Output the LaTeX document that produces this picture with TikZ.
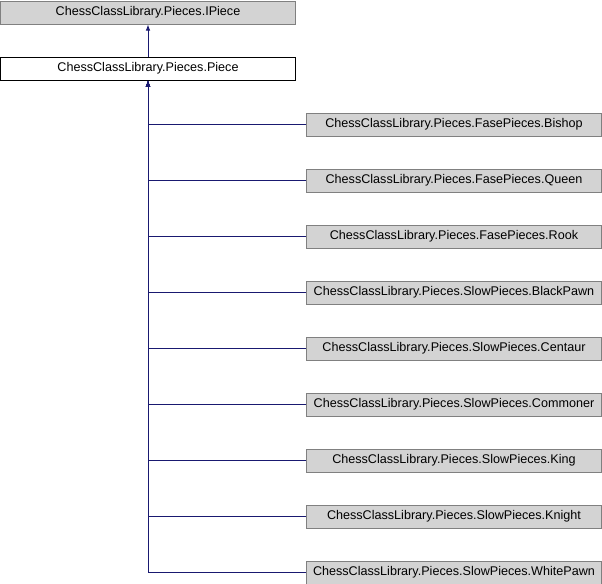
\documentclass[tikz,border=0pt]{standalone}
\usepackage{fontspec}
\setmainfont{Liberation Sans}
\usetikzlibrary{positioning}
\usetikzlibrary{arrows.meta}
\definecolor{edgeblue}{HTML}{191970}
\definecolor{boxgray}{HTML}{D3D3D3}
\definecolor{framegray}{HTML}{808080}
\tikzstyle{block} = [rectangle, draw=framegray, fill=boxgray, line width=1bp,
    minimum width=295bp, minimum height=23bp, inner sep=0pt,
    font=\fontsize{12.6bp}{14bp}\selectfont]
\tikzstyle{plain} = [block, draw=black, fill=white]
\tikzstyle{line} = [draw=edgeblue, line width=1bp, -{Latex[length=6bp,width=4.5bp]}]

\begin{document}
\begin{tikzpicture}[node distance = 56bp, auto]
  \useasboundingbox (0,0) rectangle (602bp,-584bp);
  \node [block, anchor=north west] (ipiece) at (0bp,-0.5bp) {ChessClassLibrary.Pieces.IPiece};
  \node [plain, below of=ipiece] (piece) {ChessClassLibrary.Pieces.Piece};

  \node [block, below of=piece, xshift=306bp] (bishop) {ChessClassLibrary.Pieces.FasePieces.Bishop};
  \node [block, below of=bishop] (queen) {ChessClassLibrary.Pieces.FasePieces.Queen};
  \node [block, below of=queen] (rook) {ChessClassLibrary.Pieces.FasePieces.Rook};
  \node [block, below of=rook] (blackpawn) {ChessClassLibrary.Pieces.SlowPieces.BlackPawn};
  \node [block, below of=blackpawn] (centaur) {ChessClassLibrary.Pieces.SlowPieces.Centaur};
  \node [block, below of=centaur] (commoner) {ChessClassLibrary.Pieces.SlowPieces.Commoner};
  \node [block, below of=commoner] (king) {ChessClassLibrary.Pieces.SlowPieces.King};
  \node [block, below of=king] (knight) {ChessClassLibrary.Pieces.SlowPieces.Knight};
  \node [block, below of=knight] (whitepawn) {ChessClassLibrary.Pieces.SlowPieces.WhitePawn};

    \path [line] (piece) -- (ipiece);

    \path [line] (bishop.west) -| (piece.south);
    \path [line] (queen.west) -| (piece.south);
    \path [line] (rook.west) -| (piece.south);
    \path [line] (blackpawn.west) -| (piece.south);
    \path [line] (centaur.west) -| (piece.south);
    \path [line] (commoner.west) -| (piece.south);
    \path [line] (king.west) -| (piece.south);
    \path [line] (knight.west) -| (piece.south);
    \path [line] (whitepawn.west) -| (piece.south);

\end{tikzpicture}
\end{document}
